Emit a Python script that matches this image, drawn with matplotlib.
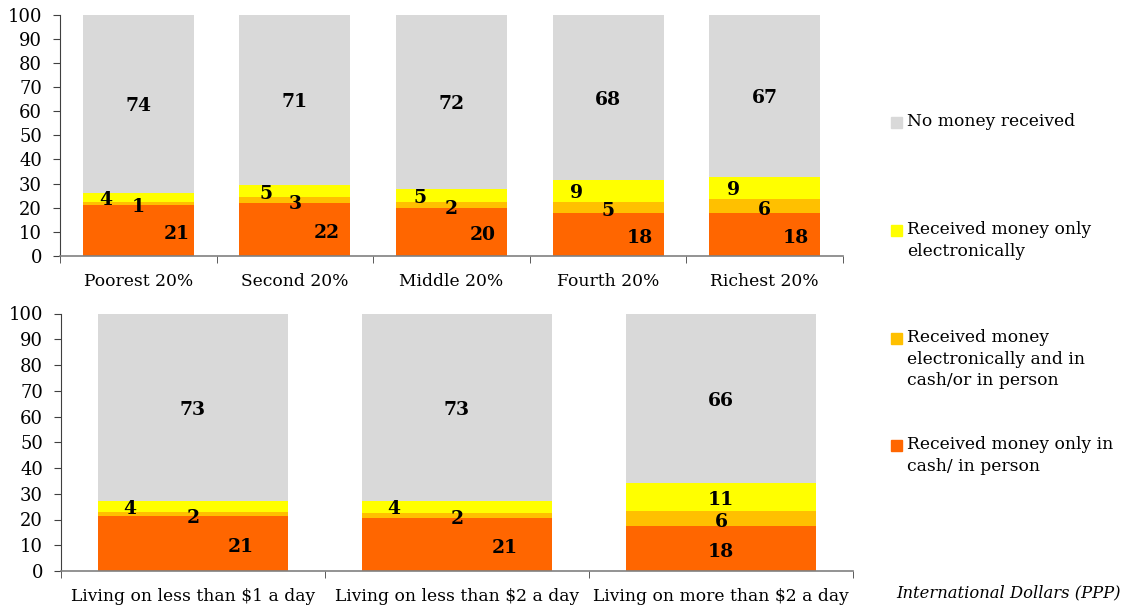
import numpy as np
import matplotlib
matplotlib.use("Agg")
import matplotlib.pyplot as plt
from matplotlib.patches import Rectangle

# DATA #
top_cats = ['Poorest 20%', 'Second 20%', 'Middle 20%', 'Fourth 20%', 'Richest 20%']
top_cash = [21.3, 22.0, 20.0, 17.8, 17.8]
top_both = [1.2, 2.5, 2.3, 4.6, 5.9]
top_elec = [3.6, 4.8, 5.5, 9.3, 9.0]
top_none = [73.9, 70.7, 72.2, 68.3, 67.3]
top_lab_cash = ['21', '22', '20', '18', '18']
top_lab_both = ['1', '3', '2', '5', '6']
top_lab_elec = ['4', '5', '5', '9', '9']
top_lab_none = ['74', '71', '72', '68', '67']

bot_cats = ['Living on less than $1 a day', 'Living on less than $2 a day',
            'Living on more than $2 a day']
bot_cash = [21.3, 20.7, 17.4]
bot_both = [1.8, 2.0, 5.9]
bot_elec = [4.2, 4.6, 10.8]
bot_none = [72.7, 72.7, 65.9]
bot_lab_cash = ['21', '21', '18']
bot_lab_both = ['2', '2', '6']
bot_lab_elec = ['4', '4', '11']
bot_lab_none = ['73', '73', '66']

series_names = ['No money received', 'Received money only\nelectronically',
                'Received money\nelectronically and in\ncash/or in person',
                'Received money only in\ncash/ in person']
colors = {'none': '#D9D9D9', 'elec': '#FFFF00', 'both': '#FFC000', 'cash': '#FF6600'}

# FONT #
plt.rcParams['font.family'] = ['DejaVu Serif']
FS = 12.3


def stacked(ax, cats, cash, both, elec, none, labs, width, offsets):
# Draws one panel of stacked bars with value labels
# offsets: per bar (x shift for elec label, x shift for cash label)
    x = np.arange(len(cats))
    cash = np.array(cash); both = np.array(both); elec = np.array(elec); none = np.array(none)
    ax.bar(x, cash, width, color=colors['cash'], edgecolor='none')
    ax.bar(x, both, width, bottom=cash, color=colors['both'], edgecolor='none')
    ax.bar(x, elec, width, bottom=cash + both, color=colors['elec'], edgecolor='none')
    ax.bar(x, none, width, bottom=cash + both + elec, color=colors['none'], edgecolor='none')

    lab_cash, lab_both, lab_elec, lab_none = labs
    for i in range(len(cats)):
        dx_e, dx_c = offsets[i]
        kw = dict(ha='center', va='center', fontsize=13.5, fontweight='bold')
        ax.text(x[i] + dx_c, cash[i] / 2 - 1.5, lab_cash[i], **kw)
        ax.text(x[i], cash[i] + both[i] / 2 - 1.5, lab_both[i], **kw)
        ax.text(x[i] + dx_e, cash[i] + both[i] + elec[i] / 2 - 1, lab_elec[i], **kw)
        ax.text(x[i], 100 - none[i] / 2 - 1, lab_none[i], **kw)

    ax.set_xlim(-0.5, len(cats) - 0.5)
    ax.set_ylim(0, 100)
    ax.set_yticks(range(0, 101, 10))
    ax.set_xticks(x)
    ax.set_xticklabels(cats, fontsize=FS)
    ax.set_xticks(np.arange(len(cats) + 1) - 0.5, minor=True)
    ax.tick_params(axis='x', which='major', length=0, pad=12)
    ax.tick_params(axis='x', which='minor', length=5, color='#404040')
    ax.tick_params(axis='y', labelsize=13, length=5, color='#404040', pad=8)
    for s in ['top', 'right']:
        ax.spines[s].set_visible(False)
    ax.spines['left'].set_color('#404040')
    ax.spines['bottom'].set_color('#808080')
    ax.spines['bottom'].set_linewidth(1.2)


W, H = 1123, 607
fig = plt.figure(figsize=(W / 100, H / 100), dpi=100)
ax1 = fig.add_axes([60 / W, 1 - 256 / H, 783 / W, (256 - 14.7) / H])
ax2 = fig.add_axes([61 / W, 1 - 571 / H, 792 / W, (571 - 313.5) / H])

stacked(ax1, top_cats, top_cash, top_both, top_elec, top_none,
        (top_lab_cash, top_lab_both, top_lab_elec, top_lab_none), 0.71,
        [(-0.21, 0.245), (-0.185, 0.2), (-0.2, 0.2), (-0.2, 0.2), (-0.2, 0.2)])
stacked(ax2, bot_cats, bot_cash, bot_both, bot_elec, bot_none,
        (bot_lab_cash, bot_lab_both, bot_lab_elec, bot_lab_none), 0.716,
        [(-0.24, 0.18), (-0.24, 0.18), (0, 0)])

# Legend built by hand on the right
leg_y = [123, 231, 339, 446]
for name, key, y in zip(series_names, ['none', 'elec', 'both', 'cash'], leg_y):
    fy = 1 - y / H
    fig.patches.append(Rectangle((891 / W, fy - 5 / H), 11 / W, 11 / H,
                                 transform=fig.transFigure, color=colors[key]))
    fig.text(907 / W, fy + 10 / H, name, fontsize=12.3, va='top', ha='left',
             linespacing=1.35)

fig.text(1121 / W, 1 - 593 / H, 'International Dollars (PPP)', fontsize=11.8,
         style='italic', ha='right', va='center')

fig.savefig('out.png', dpi=100)
